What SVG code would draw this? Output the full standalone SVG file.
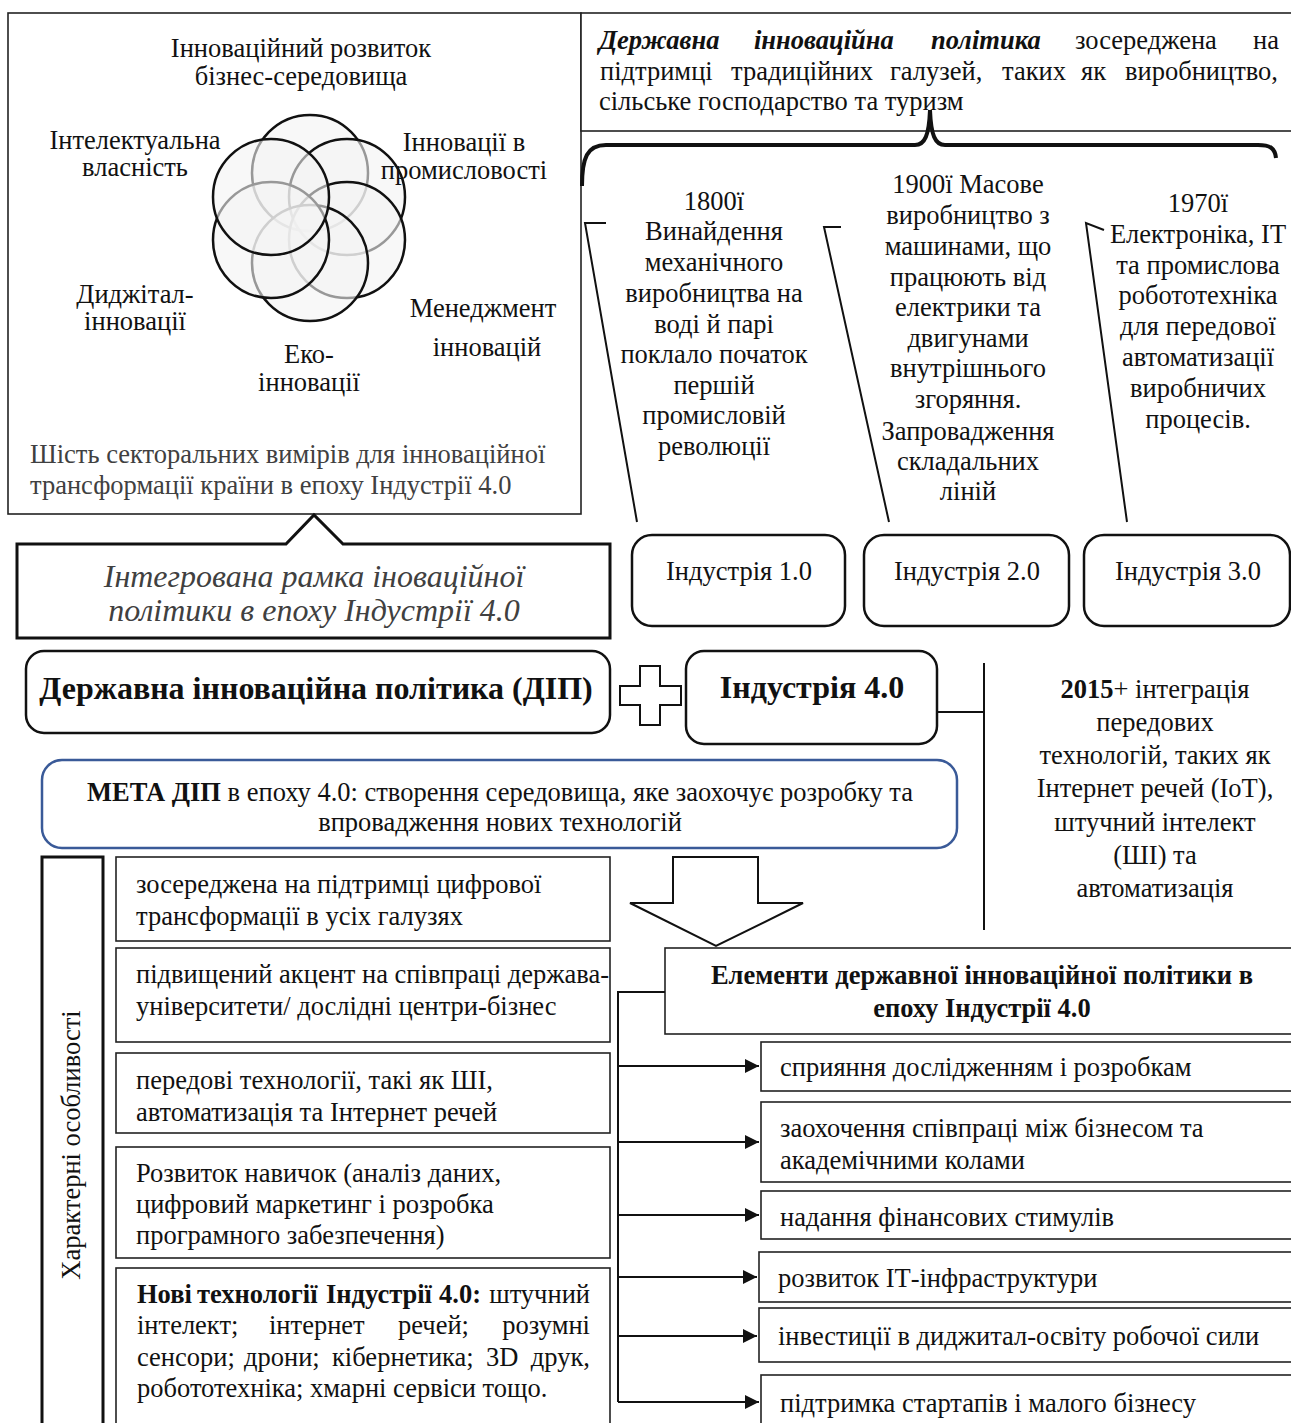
<svg xmlns="http://www.w3.org/2000/svg" width="1291" height="1423" viewBox="0 0 1291 1423">
  <style>
    text { font-family: "Liberation Serif", "Times New Roman", serif; font-size: 26.5px; fill: #111; }
    .c { text-anchor: middle; }
    .e { text-anchor: end; }
    .b { font-weight: bold; }
    .bi { font-weight: bold; font-style: italic; }
    .gray { fill: #404040; }
    .big { font-size: 32px; }
    .box { fill: #fff; stroke: #222; stroke-width: 1.6; }
    .rbox { fill: #fff; stroke: #111; stroke-width: 2.5; }
    .ln { fill: none; stroke: #111; stroke-width: 2; }
    .venn circle { fill: #f3f3f3; fill-opacity: 0.6; stroke: #111; stroke-width: 2.5; }
  </style>
  <defs>
    <marker id="arr" markerUnits="userSpaceOnUse" markerWidth="15" markerHeight="14" refX="14" refY="7" orient="auto">
      <path d="M0,0 L14,7 L0,14 Z" fill="#111"/>
    </marker>
  </defs>
  <rect width="1291" height="1423" fill="#fff"/>

  <!-- Six sectoral dimensions panel -->
  <g id="sectors">
    <rect class="box" x="8" y="13" width="573" height="501"/>
    <g class="venn">
      <circle cx="310" cy="173" r="58"/>
      <circle cx="347" cy="197" r="58"/>
      <circle cx="347" cy="240" r="58"/>
      <circle cx="310" cy="263" r="58"/>
      <circle cx="271" cy="240" r="58"/>
      <circle cx="271" cy="197" r="58"/>
    </g>
    <text class="c" x="301" y="57">Інноваційний розвиток</text>
    <text class="c" x="301" y="85">бізнес-середовища</text>
    <text class="c" x="135" y="149">Інтелектуальна</text>
    <text class="c" x="135" y="176">власність</text>
    <text class="c" x="464" y="151">Інновації в</text>
    <text class="c" x="464" y="179">промисловості</text>
    <text class="c" x="135" y="303">Диджітал-</text>
    <text class="c" x="135" y="330">інновації</text>
    <text class="c" x="483" y="317">Менеджмент</text>
    <text class="c" x="487" y="356">інновацій</text>
    <text class="c" x="309" y="363">Еко-</text>
    <text class="c" x="309" y="391">інновації</text>
    <text class="gray" x="30" y="463">Шість секторальних вимірів для інноваційної</text>
    <text class="gray" x="30" y="494">трансформації країни в епоху Індустрії 4.0</text>
  </g>

  <!-- Traditional policy description (justified lines) -->
  <g id="traditional-policy">
    <rect class="box" x="581" y="13" width="715" height="118"/>
    <text class="bi" x="599" y="49">Державна</text>
    <text class="bi" x="754" y="49">інноваційна</text>
    <text class="bi" x="931" y="49">політика</text>
    <text x="1075" y="49">зосереджена</text>
    <text class="e" x="1279" y="49">на</text>
    <text x="600" y="80">підтримці</text>
    <text x="731" y="80">традиційних</text>
    <text x="890" y="80">галузей,</text>
    <text x="1002" y="80">таких</text>
    <text x="1081" y="80">як</text>
    <text class="e" x="1278" y="80">виробництво,</text>
    <text x="599" y="110">сільське господарство та туризм</text>
  </g>

  <!-- Timeline descriptions -->
  <g id="era-1800">
    <text class="c" x="714" y="210">1800ї</text>
    <text class="c" x="714" y="240">Винайдення</text>
    <text class="c" x="714" y="271">механічного</text>
    <text class="c" x="714" y="302">виробництва на</text>
    <text class="c" x="714" y="333">воді й парі</text>
    <text class="c" x="714" y="363">поклало початок</text>
    <text class="c" x="714" y="394">першій</text>
    <text class="c" x="714" y="424">промисловій</text>
    <text class="c" x="714" y="455">революції</text>
  </g>
  <g id="era-1900">
    <text class="c" x="968" y="193">1900ї Масове</text>
    <text class="c" x="968" y="224">виробництво з</text>
    <text class="c" x="968" y="255">машинами, що</text>
    <text class="c" x="968" y="286">працюють від</text>
    <text class="c" x="968" y="316">електрики та</text>
    <text class="c" x="968" y="347">двигунами</text>
    <text class="c" x="968" y="377">внутрішнього</text>
    <text class="c" x="968" y="408">згоряння.</text>
    <text class="c" x="968" y="440">Запровадження</text>
    <text class="c" x="968" y="470">складальних</text>
    <text class="c" x="968" y="500">ліній</text>
  </g>
  <g id="era-1970">
    <text class="c" x="1198" y="212">1970ї</text>
    <text class="c" x="1198" y="243">Електроніка, ІТ</text>
    <text class="c" x="1198" y="274">та промислова</text>
    <text class="c" x="1198" y="304">робототехніка</text>
    <text class="c" x="1198" y="335">для передової</text>
    <text class="c" x="1198" y="366">автоматизації</text>
    <text class="c" x="1198" y="397">виробничих</text>
    <text class="c" x="1198" y="428">процесів.</text>
  </g>

  <!-- Industry stages -->
  <g id="industry-1">
    <rect class="rbox" x="632" y="535" width="213" height="91" rx="20"/>
    <text class="c" x="739" y="580">Індустрія 1.0</text>
  </g>
  <g id="industry-2">
    <rect class="rbox" x="864" y="535" width="205" height="91" rx="20"/>
    <text class="c" x="967" y="580">Індустрія 2.0</text>
  </g>
  <g id="industry-3">
    <rect class="rbox" x="1084" y="535" width="206" height="91" rx="20"/>
    <text class="c" x="1188" y="580">Індустрія 3.0</text>
  </g>

  <!-- Framework title callout -->
  <g id="framework-title">
    <path d="M17,544 L286,544 L314,515 L343,544 L610,544 L610,638 L17,638 Z" fill="#fff" stroke="#111" stroke-width="3"/>
    <text class="c gray big" x="314" y="587" style="font-style:italic">Інтегрована рамка іноваційної</text>
    <text class="c gray big" x="314" y="621" style="font-style:italic">політики в епоху Індустрії 4.0</text>
  </g>

  <!-- State innovation policy -->
  <g id="sip">
    <rect class="rbox" x="26" y="651" width="584" height="82" rx="18"/>
    <text class="c b big" x="316" y="699">Державна інноваційна політика (ДІП)</text>
  </g>

  <!-- Plus sign -->
  <g id="plus">
    <path d="M640,666 L660,666 L660,686 L681,686 L681,705 L660,705 L660,725 L640,725 L640,705 L620,705 L620,686 L640,686 Z" fill="#fff" stroke="#111" stroke-width="2"/>
  </g>

  <!-- Industry 4.0 -->
  <g id="industry-4">
    <rect class="rbox" x="686" y="651" width="251" height="93" rx="18"/>
    <text class="c b big" x="812" y="698">Індустрія 4.0</text>
  </g>

  <!-- Industry 4.0 description -->
  <g id="era-2015">
    <text class="c" x="1155" y="698"><tspan class="b">2015</tspan>+ інтеграція</text>
    <text class="c" x="1155" y="731">передових</text>
    <text class="c" x="1155" y="764">технологій, таких як</text>
    <text class="c" x="1155" y="797">Інтернет речей (IoT),</text>
    <text class="c" x="1155" y="831">штучний інтелект</text>
    <text class="c" x="1155" y="864">(ШІ) та</text>
    <text class="c" x="1155" y="897">автоматизація</text>
  </g>

  <!-- Goal -->
  <g id="goal">
    <rect x="42" y="760" width="915" height="88" rx="20" fill="#fff" stroke="#3A5A98" stroke-width="2.5"/>
    <text class="c" x="500" y="801"><tspan class="b">МЕТА ДІП</tspan> в епоху 4.0: створення середовища, яке заохочує розробку та</text>
    <text class="c" x="500" y="831">впровадження нових технологій</text>
  </g>

  <!-- Characteristic features -->
  <g id="features-label">
    <rect x="42" y="857" width="61" height="580" fill="#fff" stroke="#111" stroke-width="3"/>
    <text class="c" transform="translate(80,1145) rotate(-90)">Характерні особливості</text>
  </g>
  <g id="feature-1">
    <rect class="box" x="116" y="857" width="494" height="84"/>
    <text x="136" y="893">зосереджена на підтримці цифрової</text>
    <text x="136" y="925">трансформації в усіх галузях</text>
  </g>
  <g id="feature-2">
    <rect class="box" x="116" y="948" width="494" height="94"/>
    <text x="136" y="983">підвищений акцент на співпраці держава-</text>
    <text x="136" y="1015">університети/ дослідні центри-бізнес</text>
  </g>
  <g id="feature-3">
    <rect class="box" x="116" y="1053" width="494" height="80"/>
    <text x="136" y="1089">передові технології, такі як ШІ,</text>
    <text x="136" y="1121">автоматизація та Інтернет речей</text>
  </g>
  <g id="feature-4">
    <rect class="box" x="116" y="1147" width="494" height="111"/>
    <text x="136" y="1182">Розвиток навичок (аналіз даних,</text>
    <text x="136" y="1213">цифровий маркетинг і розробка</text>
    <text x="136" y="1244">програмного забезпечення)</text>
  </g>
  <g id="feature-5">
    <rect class="box" x="116" y="1268" width="494" height="170"/>
    <text class="b" x="137" y="1303">Нові</text>
    <text class="b" x="197" y="1303">технології</text>
    <text class="b" x="326" y="1303">Індустрії</text>
    <text class="b" x="439" y="1303">4.0:</text>
    <text class="e" x="590" y="1303">штучний</text>
    <text x="137" y="1334">інтелект;</text>
    <text x="269" y="1334">інтернет</text>
    <text x="398" y="1334">речей;</text>
    <text class="e" x="590" y="1334">розумні</text>
    <text x="137" y="1366">сенсори;</text>
    <text x="244" y="1366">дрони;</text>
    <text x="332" y="1366">кібернетика;</text>
    <text x="486" y="1366">3D</text>
    <text class="e" x="590" y="1366">друк,</text>
    <text x="137" y="1397">робототехніка; хмарні сервіси тощо.</text>
  </g>

  <!-- Transition arrow -->
  <g id="down-arrow">
    <path d="M673,857 L758,857 L758,903 L803,903 L716,946 L630,903 L673,903 Z" fill="#fff" stroke="#111" stroke-width="2"/>
  </g>

  <!-- Policy elements -->
  <g id="elements-header">
    <rect class="box" x="665" y="948" width="640" height="86"/>
    <text class="c b" x="982" y="984">Елементи державної інноваційної політики в</text>
    <text class="c b" x="982" y="1017">епоху Індустрії 4.0</text>
  </g>
  <g id="element-1">
    <rect class="box" x="761" y="1042" width="540" height="49"/>
    <text x="780" y="1076">сприяння дослідженням і розробкам</text>
  </g>
  <g id="element-2">
    <rect class="box" x="761" y="1102" width="540" height="80"/>
    <text x="780" y="1137">заохочення співпраці між бізнесом та</text>
    <text x="780" y="1169">академічними колами</text>
  </g>
  <g id="element-3">
    <rect class="box" x="761" y="1191" width="540" height="48"/>
    <text x="780" y="1226">надання фінансових стимулів</text>
  </g>
  <g id="element-4">
    <rect class="box" x="759" y="1252" width="540" height="50"/>
    <text x="778" y="1287">розвиток ІТ-інфраструктури</text>
  </g>
  <g id="element-5">
    <rect class="box" x="759" y="1308" width="540" height="54"/>
    <text x="778" y="1345">інвестиції в диджитал-освіту робочої сили</text>
  </g>
  <g id="element-6">
    <rect class="box" x="761" y="1375" width="540" height="60"/>
    <text x="780" y="1412">підтримка стартапів і малого бізнесу</text>
  </g>

  <!-- Connectors -->
  <g id="connectors">
    <path d="M582,186 C582,158 587,145 606,145 L915,145 C925,145 929,135 930,110 C931,135 935,145 945,145 L1258,145 C1270,145 1275,148 1276,158" fill="none" stroke="#111" stroke-width="4"/>
    <path class="ln" d="M606,223 L585,223 L637,522"/>
    <path class="ln" d="M841,227 L824,227 L889,522"/>
    <path class="ln" d="M1104,230 L1086,223 L1127,522"/>
    <path class="ln" d="M937,712 L984,712"/>
    <path class="ln" d="M984,663 L984,930"/>
    <path class="ln" d="M665,992 L618,992 L618,1402"/>
    <path class="ln" d="M618,1066 L759,1066" marker-end="url(#arr)"/>
    <path class="ln" d="M618,1142 L759,1142" marker-end="url(#arr)"/>
    <path class="ln" d="M618,1215 L759,1215" marker-end="url(#arr)"/>
    <path class="ln" d="M618,1277 L757,1277" marker-end="url(#arr)"/>
    <path class="ln" d="M618,1336 L757,1336" marker-end="url(#arr)"/>
    <path class="ln" d="M618,1402 L759,1402" marker-end="url(#arr)"/>
  </g>
</svg>
